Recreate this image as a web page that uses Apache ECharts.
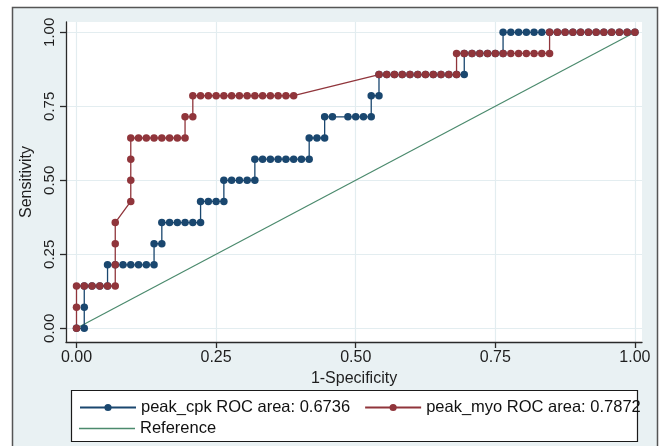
<!DOCTYPE html>
<html>
<head>
<meta charset="utf-8">
<script src="https://cdn.jsdelivr.net/npm/echarts@6/dist/echarts.min.js"></script>
<style>
html,body{margin:0;padding:0;background:#fff;}
#chart{width:661px;height:446px;}
</style>
</head>
<body>
<div id="chart"></div>
<script>
// ---- data ----
const cpkName = 'peak_cpk ROC area: 0.6736';
const myoName = 'peak_myo ROC area: 0.7872';
const refName = 'Reference';

const cpkFpr = [0, .0139, .0139, .0139, .0278, .0417, .0556, .0556, .0694, .0833, .0972, .1111, .125, .1389, .1389, .1528, .1528, .1667, .1806, .1944, .2083, .2222, .2222, .2361, .25, .2639, .2639, .2778, .2917, .3056, .3194, .3194, .3333, .3472, .3611, .375, .3889, .4028, .4167, .4167, .4306, .4444, .4444, .4583, .4861, .5, .5139, .5278, .5278, .5417, .5417, .5556, .5694, .5833, .5972, .6111, .625, .6389, .6528, .6667, .6806, .6944, .6944, .7083, .7222, .7361, .75, .7639, .7639, .7778, .7917, .8056, .8194, .8333, .8472, .8611, .875, .8889, .9028, .9167, .9306, .9444, .9583, .9722, .9861, 1];
const cpkTpr = [0, 0, .0714, .1429, .1429, .1429, .1429, .2143, .2143, .2143, .2143, .2143, .2143, .2143, .2857, .2857, .3571, .3571, .3571, .3571, .3571, .3571, .4286, .4286, .4286, .4286, .5, .5, .5, .5, .5, .5714, .5714, .5714, .5714, .5714, .5714, .5714, .5714, .6429, .6429, .6429, .7143, .7143, .7143, .7143, .7143, .7143, .7857, .7857, .8571, .8571, .8571, .8571, .8571, .8571, .8571, .8571, .8571, .8571, .8571, .8571, .9286, .9286, .9286, .9286, .9286, .9286, 1, 1, 1, 1, 1, 1, 1, 1, 1, 1, 1, 1, 1, 1, 1, 1, 1, 1];

const myoFpr = [0, 0, 0, .0139, .0278, .0417, .0556, .0694, .0694, .0694, .0694, .0972, .0972, .0972, .0972, .1111, .125, .1389, .1528, .1667, .1806, .1944, .1944, .2083, .2083, .2222, .2361, .25, .2639, .2778, .2917, .3056, .3194, .3333, .3472, .3611, .375, .3889, .5417, .5556, .5694, .5833, .5972, .6111, .625, .6389, .6528, .6667, .6806, .6806, .6944, .7083, .7222, .7361, .75, .7639, .7778, .7917, .8056, .8194, .8333, .8472, .8472, .8611, .875, .8889, .9028, .9167, .9306, .9444, .9583, .9722, .9861, 1];
const myoTpr = [0, .0714, .1429, .1429, .1429, .1429, .1429, .1429, .2143, .2857, .3571, .4286, .5, .5714, .6429, .6429, .6429, .6429, .6429, .6429, .6429, .6429, .7143, .7143, .7857, .7857, .7857, .7857, .7857, .7857, .7857, .7857, .7857, .7857, .7857, .7857, .7857, .7857, .8571, .8571, .8571, .8571, .8571, .8571, .8571, .8571, .8571, .8571, .8571, .9286, .9286, .9286, .9286, .9286, .9286, .9286, .9286, .9286, .9286, .9286, .9286, .9286, 1, 1, 1, 1, 1, 1, 1, 1, 1, 1, 1, 1];

const refX = [0, 1];
const refY = [0, 1];

const tickValues = [0, 0.25, 0.5, 0.75, 1];
const tickLabels = ['0.00', '0.25', '0.50', '0.75', '1.00'];

// ---- chart ----
const zip = (xs, ys) => xs.map((x, i) => [x, ys[i]]);
const fmt = v => { const i = tickValues.indexOf(v); return i >= 0 ? tickLabels[i] : ''; };
const FONT = 'Liberation Sans, Arial, sans-serif';
const TXT = '#1e1e1e';
const AX = '#2a2a2a';
const GRIDC = '#e3edf0';
const REFC = '#4b8a6d';

const chart = echarts.init(document.getElementById('chart'), null, {renderer: 'canvas'});
chart.setOption({
  animation: false,
  backgroundColor: '#ffffff',
  textStyle: {fontFamily: FONT},
  graphic: {elements: [
    {type: 'rect', z: -10, shape: {x: 12.5, y: 7.5, width: 645, height: 450},
     style: {fill: '#e9f1f3', stroke: '#555', lineWidth: 1.5}},
    {type: 'rect', z: 1, shape: {x: 71.5, y: 390.5, width: 566, height: 51},
     style: {fill: '#ffffff', stroke: '#1a1a1a', lineWidth: 1.2}}
  ]},
  grid: {left: 66, right: 19, top: 22, bottom: 104, show: true,
         backgroundColor: '#ffffff', borderWidth: 0},
  xAxis: {
    type: 'value', min: -0.0188, max: 1.0127,
    name: '1-Specificity', nameLocation: 'middle', nameGap: 25,
    nameTextStyle: {fontSize: 16, color: TXT, fontFamily: FONT},
    axisLine: {show: true, onZero: false, lineStyle: {color: AX, width: 1.3}},
    axisTick: {show: true, length: 6, customValues: tickValues, lineStyle: {color: AX, width: 1.3}},
    axisLabel: {customValues: tickValues, formatter: fmt, fontSize: 16, color: TXT, margin: 8, fontFamily: FONT},
    splitLine: {show: true, lineStyle: {color: GRIDC, width: 1.2}}
  },
  yAxis: {
    type: 'value', min: -0.0463, max: 1.0348,
    name: 'Sensitivity', nameLocation: 'middle', nameGap: 27,
    nameTextStyle: {fontSize: 16, color: TXT, fontFamily: FONT},
    axisLine: {show: true, onZero: false, lineStyle: {color: AX, width: 1.3}},
    axisTick: {show: true, length: 6, customValues: tickValues, lineStyle: {color: AX, width: 1.3}},
    axisLabel: {customValues: tickValues, formatter: fmt, rotate: 90, fontSize: 15, color: TXT, margin: 9, fontFamily: FONT},
    splitLine: {show: true, lineStyle: {color: GRIDC, width: 1.2}}
  },
  legend: [
    {data: [cpkName, myoName], left: 79, top: 399, orient: 'horizontal', padding: 0,
     itemWidth: 56, itemHeight: 9, itemGap: 14, selectedMode: false,
     textStyle: {fontSize: 16.5, color: '#111', fontFamily: FONT}},
    {data: [{name: refName, icon: 'rect', itemStyle: {color: REFC}}], left: 79, top: 420, orient: 'horizontal', padding: 0,
     itemWidth: 56, itemHeight: 1.3, itemGap: 14, selectedMode: false,
     textStyle: {fontSize: 16.5, color: '#111', fontFamily: FONT, padding: [1, 0, 0, 0]}}
  ],
  series: [
    {name: refName, type: 'line', data: zip(refX, refY), symbol: 'none', clip: false,
     lineStyle: {color: REFC, width: 1.2}, itemStyle: {color: REFC}, silent: true},
    {name: cpkName, type: 'line', data: zip(cpkFpr, cpkTpr), symbol: 'circle', symbolSize: 7.5,
     showSymbol: true, showAllSymbol: true, clip: false,
     lineStyle: {color: '#1a476f', width: 1.3}, itemStyle: {color: '#1a476f'}, silent: true},
    {name: myoName, type: 'line', data: zip(myoFpr, myoTpr), symbol: 'circle', symbolSize: 7.5,
     showSymbol: true, showAllSymbol: true, clip: false,
     lineStyle: {color: '#90353b', width: 1.3}, itemStyle: {color: '#90353b'}, silent: true}
  ]
});
</script>
</body>
</html>
